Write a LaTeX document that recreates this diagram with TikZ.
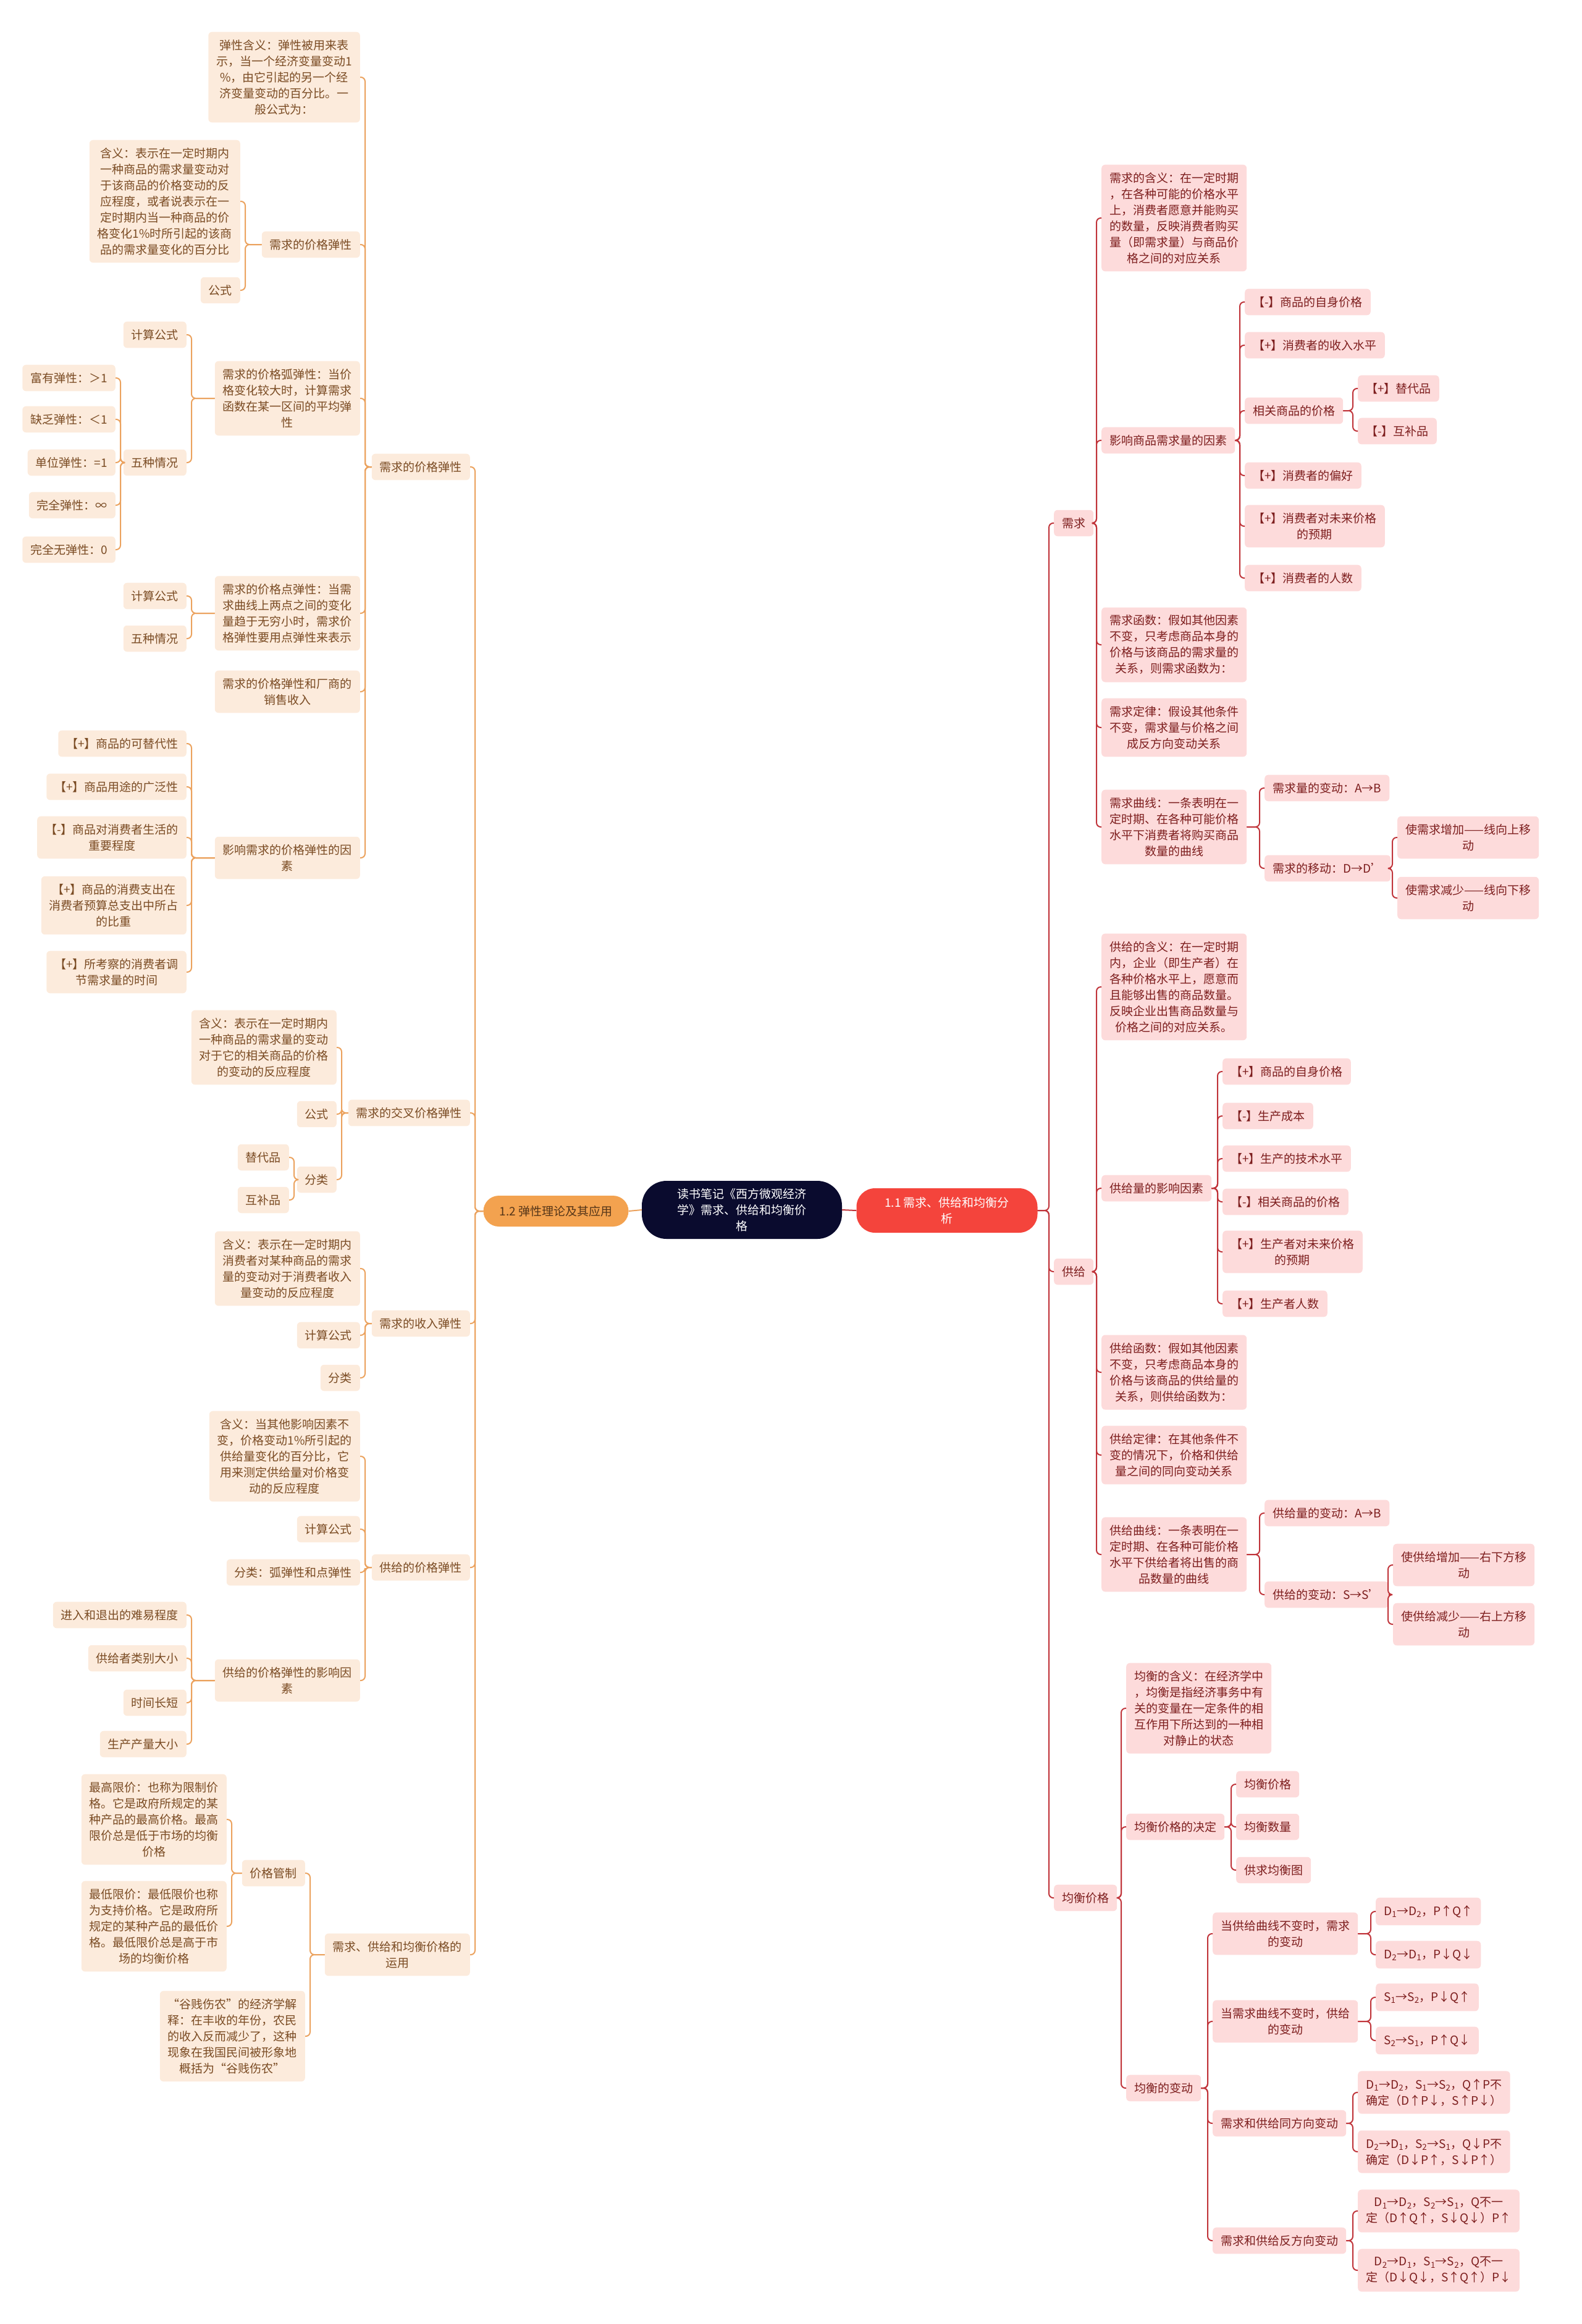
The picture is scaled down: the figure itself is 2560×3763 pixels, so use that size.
\documentclass[tikz,border=0pt]{standalone}
\usepackage{fontspec}
\setmainfont{Noto Sans CJK SC}
\definecolor{peach}{HTML}{FCEBDC}
\definecolor{browntext}{HTML}{7A4B23}
\definecolor{orangeline}{HTML}{EBA25E}
\definecolor{pinkfill}{HTML}{FDDBDB}
\definecolor{redtext}{HTML}{7D1E1E}
\definecolor{redline}{HTML}{C0343A}
\definecolor{rootfill}{HTML}{0A0B2E}
\definecolor{onefill}{HTML}{F4443C}
\definecolor{twofill}{HTML}{F3A24F}
\newcommand{\mapfont}{\fontsize{19}{26}\selectfont}
\newcommand{\subi}[1]{\textsubscript{#1}}

\begin{document}
\begin{tikzpicture}[x=1pt,y=-1pt,
  lbox/.style={fill=peach,text=browntext,rounded corners=6pt,inner xsep=13pt,inner ysep=12.5pt,align=center,font=\mapfont,anchor=east},
  rbox/.style={fill=pinkfill,text=redtext,rounded corners=6pt,inner xsep=13pt,inner ysep=12.5pt,align=center,font=\mapfont,anchor=west},
  lline/.style={draw=orangeline,line width=2pt,rounded corners=7pt},
  rline/.style={draw=redline,line width=2pt,rounded corners=7pt}]
\useasboundingbox (0,0) rectangle (2560,3763);

\node[fill=rootfill,text=white,rounded corners=40pt,minimum width=324pt,minimum height=94pt,align=center,font=\mapfont] (root) at (1201,1959) {读书笔记《西方微观经济\\学》需求、供给和均衡价\\格};
\node[fill=twofill,text=browntext!70!black,rounded corners=25pt,minimum width=235pt,minimum height=50pt,font=\mapfont] (n12) at (900,1961) {1.2 弹性理论及其应用};
\node[fill=onefill,text=white,rounded corners=30pt,minimum width=293pt,minimum height=72pt,align=center,font=\mapfont] (n11) at (1533,1960) {1.1 需求、供给和均衡分\\析};
\draw[orangeline,line width=2pt] (root.west) -- (n12.east);
\draw[redline,line width=2pt] (root.east) -- (n11.west);

% 1.2
\node[lbox] (ped) at (761,756) {需求的价格弹性};
\node[lbox] (cpe) at (761,1802) {需求的交叉价格弹性};
\node[lbox] (ie) at (761,2143) {需求的收入弹性};
\node[lbox] (spe) at (761,2538) {供给的价格弹性};
\node[lbox] (app) at (761,3165) {需求、供给和均衡价格的\\运用};

\node[lbox] (el) at (583,125) {弹性含义：弹性被用来表\\示，当一个经济变量变动1\\\%，由它引起的另一个经\\济变量变动的百分比。一\\般公式为：};
\node[lbox] (ped2) at (583,396) {需求的价格弹性};
\node[lbox] (arc) at (583,645) {需求的价格弧弹性：当价\\格变化较大时，计算需求\\函数在某一区间的平均弹\\性};
\node[lbox] (pt) at (583,993) {需求的价格点弹性：当需\\求曲线上两点之间的变化\\量趋于无穷小时，需求价\\格弹性要用点弹性来表示};
\node[lbox] (rev) at (583,1120) {需求的价格弹性和厂商的\\销售收入};
\node[lbox] (fac) at (583,1389) {影响需求的价格弹性的因\\素};

\node[lbox] (ped2m) at (389,326) {含义：表示在一定时期内\\一种商品的需求量变动对\\于该商品的价格变动的反\\应程度，或者说表示在一\\定时期内当一种商品的价\\格变化1\%时所引起的该商\\品的需求量变化的百分比};
\node[lbox] (ped2f) at (389,470) {公式};
\node[lbox] (arcf) at (302,542) {计算公式};
\node[lbox] (arcc) at (302,749) {五种情况};
\node[lbox] (c1) at (187,612) {富有弹性：＞1};
\node[lbox] (c2) at (187,679) {缺乏弹性：＜1};
\node[lbox] (c3) at (187,749) {单位弹性：=1};
\node[lbox] (c4) at (187,818) {完全弹性：∞};
\node[lbox] (c5) at (187,890) {完全无弹性：0};
\node[lbox] (ptf) at (302,965) {计算公式};
\node[lbox] (ptc) at (302,1034) {五种情况};
\node[lbox] (f1) at (302,1204) {【+】商品的可替代性};
\node[lbox] (f2) at (302,1274) {【+】商品用途的广泛性};
\node[lbox] (f3) at (302,1356) {【-】商品对消费者生活的\\重要程度};
\node[lbox] (f4) at (302,1466) {【+】商品的消费支出在\\消费者预算总支出中所占\\的比重};
\node[lbox] (f5) at (302,1574) {【+】所考察的消费者调\\节需求量的时间};

\node[lbox] (cpem) at (545,1696) {含义：表示在一定时期内\\一种商品的需求量的变动\\对于它的相关商品的价格\\的变动的反应程度};
\node[lbox] (cpef) at (545,1804) {公式};
\node[lbox] (cpec) at (545,1910) {分类};
\node[lbox] (sub) at (468,1874) {替代品};
\node[lbox] (comp) at (468,1943) {互补品};

\node[lbox] (iem) at (583,2054) {含义：表示在一定时期内\\消费者对某种商品的需求\\量的变动对于消费者收入\\量变动的反应程度};
\node[lbox] (ief) at (583,2162) {计算公式};
\node[lbox] (iec) at (583,2231) {分类};

\node[lbox] (spem) at (583,2358) {含义：当其他影响因素不\\变，价格变动1\%所引起的\\供给量变化的百分比，它\\用来测定供给量对价格变\\动的反应程度};
\node[lbox] (spef) at (583,2476) {计算公式};
\node[lbox] (spec) at (583,2546) {分类：弧弹性和点弹性};
\node[lbox] (spefac) at (583,2721) {供给的价格弹性的影响因\\素};
\node[lbox] (s1) at (302,2615) {进入和退出的难易程度};
\node[lbox] (s2) at (302,2685) {供给者类别大小};
\node[lbox] (s3) at (302,2757) {时间长短};
\node[lbox] (s4) at (302,2824) {生产产量大小};

\node[lbox] (ctrl) at (494,3033) {价格管制};
\node[lbox] (gjsn) at (494,3297) {“谷贱伤农”的经济学解\\释：在丰收的年份，农民\\的收入反而减少了，这种\\现象在我国民间被形象地\\概括为“谷贱伤农”};
\node[lbox] (hi) at (367,2946) {最高限价：也称为限制价\\格。它是政府所规定的某\\种产品的最高价格。最高\\限价总是低于市场的均衡\\价格};
\node[lbox] (lo) at (367,3119) {最低限价：最低限价也称\\为支持价格。它是政府所\\规定的某种产品的最低价\\格。最低限价总是高于市\\场的均衡价格};

\foreach \p/\c in {n12/ped,n12/cpe,n12/ie,n12/spe,n12/app,
  ped/el,ped/ped2,ped/arc,ped/pt,ped/rev,ped/fac,ped2/ped2m,ped2/ped2f,
  arc/arcf,arc/arcc,arcc/c1,arcc/c2,arcc/c3,arcc/c4,arcc/c5,pt/ptf,pt/ptc,
  fac/f1,fac/f2,fac/f3,fac/f4,fac/f5,
  cpe/cpem,cpe/cpef,cpe/cpec,cpec/sub,cpec/comp,ie/iem,ie/ief,ie/iec,
  spe/spem,spe/spef,spe/spec,spe/spefac,spefac/s1,spefac/s2,spefac/s3,spefac/s4,
  app/ctrl,app/gjsn,ctrl/hi,ctrl/lo}
  \draw[lline] (\c.east) -- ++(8,0) |- (\p.west);

% 1.1
\node[rbox] (dm) at (1706,847) {需求};
\node[rbox] (sp) at (1706,2059) {供给};
\node[rbox] (eq) at (1706,3073) {均衡价格};

\node[rbox] (dmm) at (1783,353) {需求的含义：在一定时期\\，在各种可能的价格水平\\上，消费者愿意并能购买\\的数量，反映消费者购买\\量（即需求量）与商品价\\格之间的对应关系};
\node[rbox] (dmf) at (1783,713) {影响商品需求量的因素};
\node[rbox] (dfn) at (1783,1044) {需求函数：假如其他因素\\不变，只考虑商品本身的\\价格与该商品的需求量的\\关系，则需求函数为：};
\node[rbox] (dlaw) at (1783,1178) {需求定律：假设其他条件\\不变，需求量与价格之间\\成反方向变动关系};
\node[rbox] (dcur) at (1783,1339) {需求曲线：一条表明在一\\定时期、在各种可能价格\\水平下消费者将购买商品\\数量的曲线};
\node[rbox] (r1) at (2015,489) {【-】商品的自身价格};
\node[rbox] (r2) at (2015,559) {【+】消费者的收入水平};
\node[rbox] (r3) at (2015,665) {相关商品的价格};
\node[rbox] (r3a) at (2198,629) {【+】替代品};
\node[rbox] (r3b) at (2198,698) {【-】互补品};
\node[rbox] (r4) at (2015,770) {【+】消费者的偏好};
\node[rbox] (r5) at (2015,852) {【+】消费者对未来价格\\的预期};
\node[rbox] (r6) at (2015,936) {【+】消费者的人数};
\node[rbox] (dq) at (2047,1276) {需求量的变动：A→B};
\node[rbox] (dsh) at (2047,1406) {需求的移动：D→D'};
\node[rbox] (dsh1) at (2262,1356) {使需求增加——线向上移\\动};
\node[rbox] (dsh2) at (2262,1454) {使需求减少——线向下移\\动};

\node[rbox] (spm) at (1783,1598) {供给的含义：在一定时期\\内，企业（即生产者）在\\各种价格水平上，愿意而\\且能够出售的商品数量。\\反映企业出售商品数量与\\价格之间的对应关系。};
\node[rbox] (spf) at (1783,1924) {供给量的影响因素};
\node[rbox] (sfn) at (1783,2222) {供给函数：假如其他因素\\不变，只考虑商品本身的\\价格与该商品的供给量的\\关系，则供给函数为：};
\node[rbox] (slaw) at (1783,2356) {供给定律：在其他条件不\\变的情况下，价格和供给\\量之间的同向变动关系};
\node[rbox] (scur) at (1783,2517) {供给曲线：一条表明在一\\定时期、在各种可能价格\\水平下供给者将出售的商\\品数量的曲线};
\node[rbox] (q1) at (1979,1735) {【+】商品的自身价格};
\node[rbox] (q2) at (1979,1807) {【-】生产成本};
\node[rbox] (q3) at (1979,1876) {【+】生产的技术水平};
\node[rbox] (q4) at (1979,1946) {【-】相关商品的价格};
\node[rbox] (q5) at (1979,2027) {【+】生产者对未来价格\\的预期};
\node[rbox] (q6) at (1979,2111) {【+】生产者人数};
\node[rbox] (sq) at (2047,2450) {供给量的变动：A→B};
\node[rbox] (ssh) at (2047,2582) {供给的变动：S→S'};
\node[rbox] (ssh1) at (2255,2534) {使供给增加——右下方移\\动};
\node[rbox] (ssh2) at (2255,2630) {使供给减少——右上方移\\动};

\node[rbox] (eqm) at (1823,2766) {均衡的含义：在经济学中\\，均衡是指经济事务中有\\关的变量在一定条件的相\\互作用下所达到的一种相\\对静止的状态};
\node[rbox] (eqd) at (1823,2958) {均衡价格的决定};
\node[rbox] (eqc) at (1823,3381) {均衡的变动};
\node[rbox] (eqd1) at (2001,2889) {均衡价格};
\node[rbox] (eqd2) at (2001,2958) {均衡数量};
\node[rbox] (eqd3) at (2001,3028) {供求均衡图};
\node[rbox] (ch1) at (1963,3131) {当供给曲线不变时，需求\\的变动};
\node[rbox] (ch2) at (1963,3273) {当需求曲线不变时，供给\\的变动};
\node[rbox] (ch3) at (1963,3438) {需求和供给同方向变动};
\node[rbox] (ch4) at (1963,3628) {需求和供给反方向变动};
\node[rbox] (ch1a) at (2227,3095) {D\subi{1}→D\subi{2}，P↑Q↑};
\node[rbox] (ch1b) at (2227,3165) {D\subi{2}→D\subi{1}，P↓Q↓};
\node[rbox] (ch2a) at (2227,3234) {S\subi{1}→S\subi{2}，P↓Q↑};
\node[rbox] (ch2b) at (2227,3304) {S\subi{2}→S\subi{1}，P↑Q↓};
\node[rbox] (ch3a) at (2198,3388) {D\subi{1}→D\subi{2}，S\subi{1}→S\subi{2}，Q↑P不\\确定（D↑P↓，S↑P↓）};
\node[rbox] (ch3b) at (2198,3484) {D\subi{2}→D\subi{1}，S\subi{2}→S\subi{1}，Q↓P不\\确定（D↓P↑，S↓P↑）};
\node[rbox] (ch4a) at (2198,3580) {D\subi{1}→D\subi{2}，S\subi{2}→S\subi{1}，Q不一\\定（D↑Q↑，S↓Q↓）P↑};
\node[rbox] (ch4b) at (2198,3676) {D\subi{2}→D\subi{1}，S\subi{1}→S\subi{2}，Q不一\\定（D↓Q↓，S↑Q↑）P↓};

\foreach \p/\c in {n11/dm,n11/sp,n11/eq,
  dm/dmm,dm/dmf,dm/dfn,dm/dlaw,dm/dcur,dmf/r1,dmf/r2,dmf/r3,dmf/r4,dmf/r5,dmf/r6,
  r3/r3a,r3/r3b,dcur/dq,dcur/dsh,dsh/dsh1,dsh/dsh2,
  sp/spm,sp/spf,sp/sfn,sp/slaw,sp/scur,spf/q1,spf/q2,spf/q3,spf/q4,spf/q5,spf/q6,
  scur/sq,scur/ssh,ssh/ssh1,ssh/ssh2,
  eq/eqm,eq/eqd,eq/eqc,eqd/eqd1,eqd/eqd2,eqd/eqd3,eqc/ch1,eqc/ch2,eqc/ch3,eqc/ch4,
  ch1/ch1a,ch1/ch1b,ch2/ch2a,ch2/ch2b,ch3/ch3a,ch3/ch3b,ch4/ch4a,ch4/ch4b}
  \draw[rline] (\c.west) -- ++(-8,0) |- (\p.east);
\end{tikzpicture}
\end{document}
